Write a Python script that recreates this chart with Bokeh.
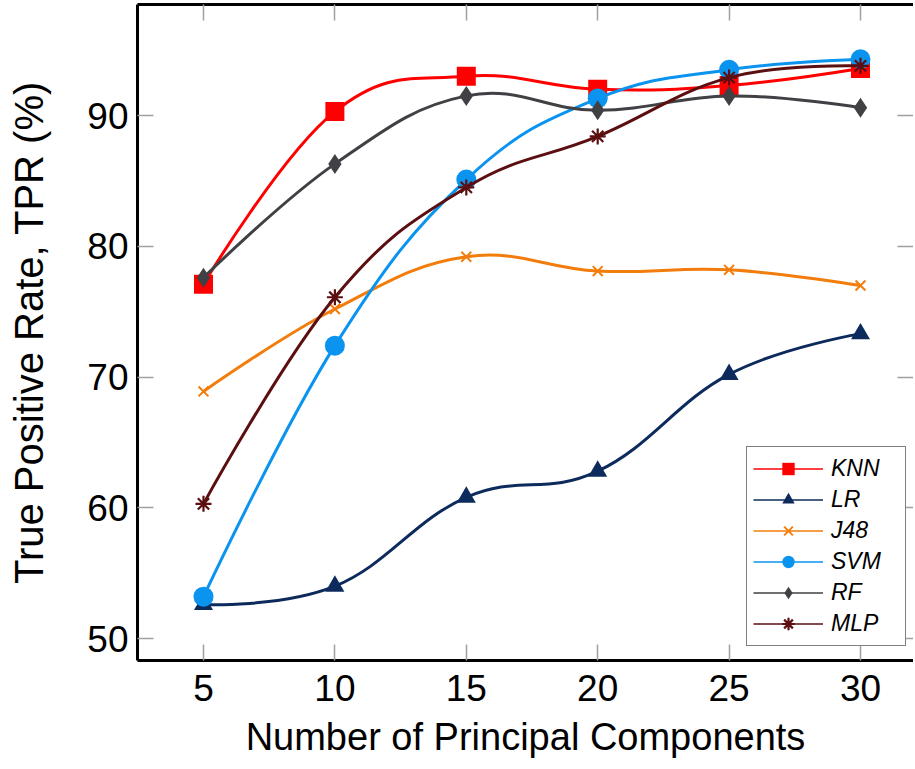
import numpy as np
from bokeh.plotting import figure
from bokeh.models import (Range1d, FixedTicker, LinearAxis, Legend, LegendItem,
                          ColumnDataSource)
from bokeh.embed import file_html
from bokeh.resources import INLINE

# ---------------- data ----------------
components = [5, 10, 15, 20, 25, 30]
knn = [77.1, 90.3, 93.0, 92.0, 92.3, 93.6]
lr = [52.6, 54.0, 60.8, 62.8, 70.2, 73.3]
j48 = [68.9, 75.2, 79.2, 78.1, 78.2, 77.0]
svm = [53.2, 72.4, 85.1, 91.3, 93.5, 94.3]
rf = [77.6, 86.3, 91.5, 90.4, 91.5, 90.6]
mlp = [60.3, 76.1, 84.5, 88.4, 92.9, 93.8]
series_names = ["KNN", "LR", "J48", "SVM", "RF", "MLP"]
x_ticks = [5, 10, 15, 20, 25, 30]
y_ticks = [50, 60, 70, 80, 90]

# ---------------- styles ----------------
FONT = "Liberation Sans"
styles = {
    "KNN": dict(color="#ff0000", marker="square", size=19, lw=0),
    "LR": dict(color="#0c2b5c", marker="triangle", size=19, lw=0),
    "J48": dict(color="#f27d0c", marker="x", size=14, lw=2),
    "SVM": dict(color="#0a94f0", marker="circle", size=20, lw=0),
    "RF": dict(color="#404045", marker="diamond", size=20, lw=0),
    "MLP": dict(color="#5c0f10", marker="asterisk", size=16, lw=2.2),
}
values = dict(zip(series_names, [knn, lr, j48, svm, rf, mlp]))


def smooth_segments(xs, ys, tension=0.2):
    """Bezier control points for a smooth curve through the points."""
    x = np.asarray(xs, float)
    y = np.asarray(ys, float)
    n = len(x)
    tx = np.zeros(n)
    ty = np.zeros(n)
    tx[1:-1] = x[2:] - x[:-2]
    ty[1:-1] = y[2:] - y[:-2]
    return dict(x0=x[:-1], y0=y[:-1], x1=x[1:], y1=y[1:],
                cx0=x[:-1] + tension * tx[:-1], cy0=y[:-1] + tension * ty[:-1],
                cx1=x[1:] - tension * tx[1:], cy1=y[1:] - tension * ty[1:])


FW, FH = 776, 656
X0, X1 = 2.489, 32.017
Y0, Y1 = 48.32, 98.49

p = figure(frame_width=FW, frame_height=FH,
           x_range=Range1d(X0, X1), y_range=Range1d(Y0, Y1),
           output_backend="svg", toolbar_location=None,
           min_border_left=137, min_border_right=0, min_border_top=4,
           min_border_bottom=104)
p.outline_line_color = None
p.grid.visible = False
p.background_fill_color = "white"

TICK_COLOR = "#a0a0a0"

for ax in (p.xaxis[0], p.yaxis[0]):
    ax.axis_line_color = "black"
    ax.axis_line_width = 3
    ax.major_tick_in = 16
    ax.major_tick_out = 0
    ax.major_tick_line_color = TICK_COLOR
    ax.major_tick_line_width = 1.5
    ax.minor_tick_line_color = None
    ax.major_label_text_font = FONT
    ax.major_label_text_font_size = "37px"
    ax.major_label_text_color = "black"
    ax.axis_label_text_font = FONT
    ax.axis_label_text_font_style = "normal"
    ax.axis_label_text_color = "black"

p.xaxis[0].ticker = FixedTicker(ticks=x_ticks)
p.yaxis[0].ticker = FixedTicker(ticks=y_ticks)
p.xaxis[0].major_label_standoff = 14
p.yaxis[0].major_label_standoff = 9
p.xaxis[0].axis_label = "Number of Principal Components"
p.xaxis[0].axis_label_text_font_size = "38px"
p.xaxis[0].axis_label_standoff = 12
p.yaxis[0].axis_label = "True Positive Rate, TPR (%)"
p.yaxis[0].axis_label_text_font_size = "40px"
p.yaxis[0].axis_label_standoff = 33

# top and right axes: ticks only
top = LinearAxis(ticker=FixedTicker(ticks=x_ticks), axis_line_color="black",
                 axis_line_width=3, major_tick_in=16, major_tick_out=0,
                 major_tick_line_color=TICK_COLOR, major_tick_line_width=1.5,
                 minor_tick_line_color=None, major_label_text_font_size="1px",
                 major_label_text_color=None, major_label_standoff=0)
right = LinearAxis(ticker=FixedTicker(ticks=y_ticks), axis_line_color=None,
                   major_tick_in=16, major_tick_out=0,
                   major_tick_line_color=TICK_COLOR, major_tick_line_width=1.5,
                   minor_tick_line_color=None, major_label_text_font_size="1px",
                   major_label_text_color=None, major_label_standoff=0)
p.add_layout(top, "above")
p.add_layout(right, "right")

items = []
for name in series_names:
    st = styles[name]
    ys = values[name]
    src = ColumnDataSource(smooth_segments(components, ys))
    p.bezier(x0="x0", y0="y0", x1="x1", y1="y1", cx0="cx0", cy0="cy0",
             cx1="cx1", cy1="cy1", source=src, line_color=st["color"], line_width=3)
    if st["lw"] > 0:
        sc = p.scatter(components, ys, marker=st["marker"], size=st["size"],
                       line_color=st["color"], fill_color=st["color"],
                       line_width=st["lw"])
    else:
        sc = p.scatter(components, ys, marker=st["marker"], size=st["size"],
                       line_color=None, fill_color=st["color"])
    # thin line used only for the legend sample
    legend_line = p.line(x=[components[0]], y=[float("nan")],
                         line_color=st["color"], line_width=1.3)
    items.append(LegendItem(label=name, renderers=[legend_line, sc]))

legend = Legend(items=items, location=(609, 14), glyph_width=70, glyph_height=31,
                label_height=24, spacing=0, padding=6, margin=0,
                label_standoff=8, label_width=68,
                label_text_font=FONT, label_text_font_style="italic",
                label_text_font_size="23px", label_text_color="black",
                border_line_color="black", border_line_width=1.5,
                background_fill_color="white", background_fill_alpha=1.0)
p.add_layout(legend)

open("out.html", "w").write(file_html(p, INLINE))
